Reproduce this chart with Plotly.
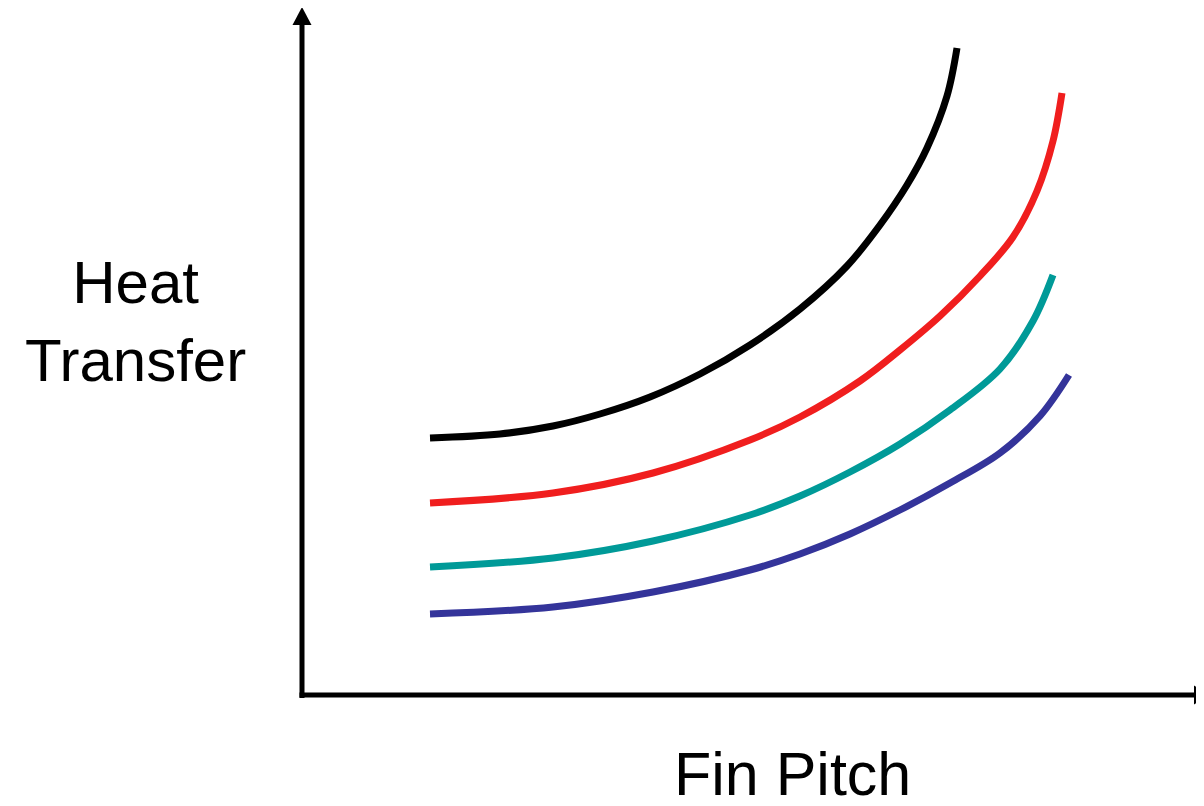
import plotly.graph_objects as go

# Schematic: heat transfer vs fin pitch (arbitrary units, origin at axis corner)
black_x = [128, 198, 251, 298, 348, 398, 448, 498, 545, 578, 605, 625, 645, 655]
black_y = [257, 261, 269, 281, 298, 321, 350, 386, 429, 470, 510, 547, 599, 647]
red_x = [128, 251, 351, 448, 498, 558, 598, 638, 678, 711, 735, 751, 760]
red_y = [192, 202, 222, 255, 278, 314, 345, 379, 419, 458, 504, 554, 602]
teal_x = [128, 251, 351, 448, 498, 548, 598, 648, 698, 731, 751]
teal_y = [128, 137, 154, 180, 199, 223, 251, 285, 326, 374, 420]
blue_x = [128, 251, 351, 448, 498, 548, 598, 648, 698, 738, 767]
blue_y = [81, 88, 103, 125, 141, 161, 185, 212, 242, 279, 320]

series = [
    (black_x, black_y, "#000000"),
    (red_x, red_y, "#F01E1E"),
    (teal_x, teal_y, "#009A98"),
    (blue_x, blue_y, "#34349A"),
]

fig = go.Figure()
for xs, ys, col in series:
    fig.add_trace(go.Scatter(x=xs, y=ys, mode="lines",
                             line=dict(color=col, width=7, shape="spline", smoothing=1.0),
                             hoverinfo="skip", showlegend=False))

AX = 5
shapes = [
    dict(type="line", x0=0, y0=-3, x1=0, y1=672, line=dict(color="black", width=AX)),
    dict(type="path", path="M -9.5 670 L 9.5 670 L 0 688 Z", fillcolor="black", line=dict(width=0)),
    dict(type="line", x0=-2.5, y0=0, x1=895, y1=0, line=dict(color="black", width=AX)),
    dict(type="path", path="M 892 -9.5 L 892 9.5 L 906 0 Z", fillcolor="black", line=dict(width=0)),
]

fam = "Liberation Sans, Arial, sans-serif"
fig.update_layout(
    width=1204, height=806,
    margin=dict(l=0, r=0, t=0, b=0),
    paper_bgcolor="white", plot_bgcolor="white",
    xaxis=dict(range=[-294, 910], visible=False, fixedrange=True),
    yaxis=dict(range=[-119, 687], visible=False, fixedrange=True),
    shapes=shapes,
    annotations=[
        dict(text="Heat<br>Transfer", x=-167, y=374, xref="x", yref="y",
             showarrow=False, font=dict(family=fam, size=60, color="black"),
             align="center", xanchor="center", yanchor="middle"),
        dict(text="Fin Pitch", x=490, y=-79, xref="x", yref="y",
             showarrow=False, font=dict(family=fam, size=61, color="black"),
             xanchor="center", yanchor="middle"),
    ],
)

fig.write_html("out.html")
